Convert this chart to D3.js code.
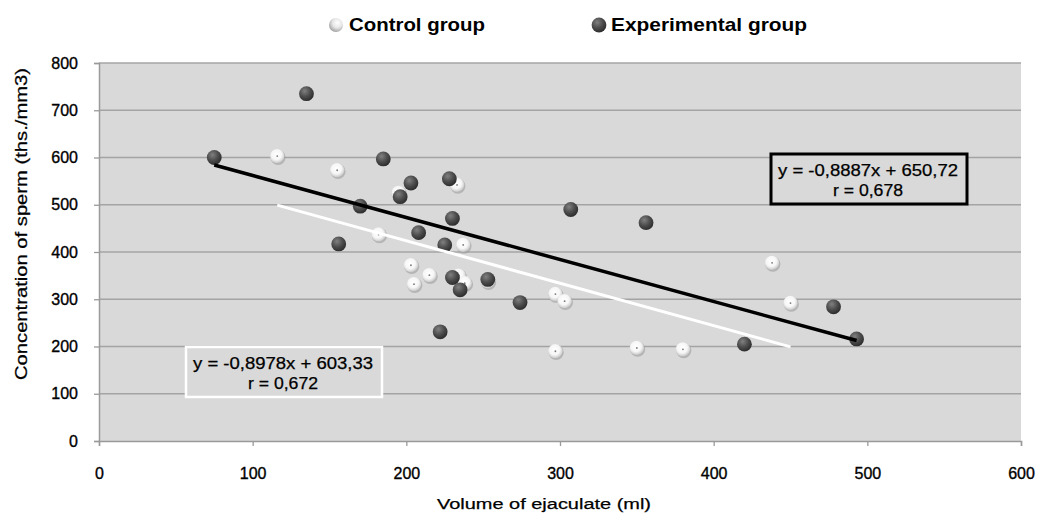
<!DOCTYPE html>
<html><head><meta charset="utf-8">
<script src="https://cdn.jsdelivr.net/npm/d3@7"></script>
<style>
body{margin:0;background:#fff}
text{font-family:"Liberation Sans",Arial,sans-serif;fill:#000}
</style>
</head><body><svg id="c" width="1040" height="515"></svg>
<script>
// ---- data ----
const seriesNames = ["Control group", "Experimental group"];
const controlX = [116, 155, 182, 195, 233, 237, 203, 215, 205, 234, 238, 253, 297, 303, 297, 350, 380, 438, 450];
const controlY = [603, 573, 437, 525, 542, 415, 372, 351, 332, 350, 334, 338, 311, 296, 190, 197, 194, 377, 292];
const expX = [75, 135, 185, 170, 156, 196, 203, 228, 307, 356, 230, 208, 225, 230, 235, 253, 274, 222, 420, 478, 493];
const expY = [600, 735, 597, 497, 417, 517, 546, 555, 490, 462, 471, 441, 415, 346, 320, 342, 293, 231, 205, 284, 216];
const xTicks = [0, 100, 200, 300, 400, 500, 600];
const yTicks = [0, 100, 200, 300, 400, 500, 600, 700, 800];
const trendSlopes = [-0.8978, -0.8887];
const trendIntercepts = [603.33, 650.72];
const trendEq = ["y = -0,8978x  + 603,33", "y = -0,8887x  + 650,72"];
const trendR = ["r = 0,672", "r = 0,678"];
const xTitle = "Volume of ejaculate (ml)";
const yTitle = "Concentration of sperm (ths./mm3)";

// ---- layout ----
const svg = d3.select("#c");
const x = d3.scaleLinear().domain([0, 600]).range([99, 1021]);
const y = d3.scaleLinear().domain([0, 800]).range([441, 63]);

const defs = svg.append("defs");
const gd = defs.append("radialGradient").attr("id", "gDark").attr("cx", "38%").attr("cy", "32%").attr("r", "70%");
gd.append("stop").attr("offset", "0%").attr("stop-color", "#808080");
gd.append("stop").attr("offset", "55%").attr("stop-color", "#4c4c4c");
gd.append("stop").attr("offset", "100%").attr("stop-color", "#2c2c2c");
const gw = defs.append("radialGradient").attr("id", "gWhite").attr("cx", "45%").attr("cy", "40%").attr("r", "65%");
gw.append("stop").attr("offset", "0%").attr("stop-color", "#ffffff");
gw.append("stop").attr("offset", "55%").attr("stop-color", "#f6f6f6");
gw.append("stop").attr("offset", "85%").attr("stop-color", "#cfcfcf");
gw.append("stop").attr("offset", "100%").attr("stop-color", "#a8a8a8");
const gl = defs.append("radialGradient").attr("id", "gLeg").attr("cx", "60%").attr("cy", "35%").attr("r", "70%");
gl.append("stop").attr("offset", "0%").attr("stop-color", "#ffffff");
gl.append("stop").attr("offset", "50%").attr("stop-color", "#e6e6e6");
gl.append("stop").attr("offset", "100%").attr("stop-color", "#9a9a9a");

const textStroke = (s, w) => s.attr("stroke", "#000").attr("stroke-width", w);

// plot background
svg.append("rect").attr("x", x(0)).attr("y", y(800)).attr("width", x(600) - x(0)).attr("height", y(0) - y(800)).attr("fill", "#d9d9d9");

// gridlines
svg.append("g").selectAll("line").data(yTicks.filter(d => d > 0)).join("line")
  .attr("x1", x(0)).attr("x2", x(600)).attr("y1", d => y(d)).attr("y2", d => y(d))
  .attr("stroke", "#a4a4a4").attr("stroke-width", 1.3);

// axes
const yAxis = svg.append("g").attr("transform", `translate(${x(0)},0)`)
  .call(d3.axisLeft(y).tickValues(yTicks).tickSize(5).tickPadding(16));
const xAxis = svg.append("g").attr("transform", `translate(0,${y(0)})`)
  .call(d3.axisBottom(x).tickValues(xTicks).tickSize(5).tickPadding(22));
[yAxis, xAxis].forEach(a => {
  a.select(".domain").attr("stroke", "#9a9a9a").attr("stroke-width", 1.5);
  a.selectAll(".tick line").attr("stroke", "#9a9a9a").attr("stroke-width", 1.3);
  a.selectAll(".tick text").attr("font-size", 16).attr("fill", "#000")
    .style("font-family", '"Liberation Sans",Arial,sans-serif').call(textStroke, 0.35);
});

// axis titles
svg.append("text").attr("x", 544).attr("y", 509).attr("text-anchor", "middle")
  .attr("font-size", 15.5).attr("textLength", 214).attr("lengthAdjust", "spacingAndGlyphs").call(textStroke, 0.25).text(xTitle);
svg.append("text").attr("transform", "translate(27,224) rotate(-90)").attr("text-anchor", "middle")
  .attr("font-size", 16).attr("textLength", 312).attr("lengthAdjust", "spacingAndGlyphs").call(textStroke, 0.25).text(yTitle);

// dots
function drawDot(g, cx, cy, dark, legendMark) {
  if (dark) {
    g.append("circle").attr("cx", cx).attr("cy", cy).attr("r", 7.4).attr("fill", "url(#gDark)");
  } else if (legendMark) {
    g.append("circle").attr("cx", cx).attr("cy", cy).attr("r", 7).attr("fill", "url(#gLeg)");
  } else {
    g.append("circle").attr("cx", cx + 0.8).attr("cy", cy + 1.2).attr("r", 7.6).attr("fill", "#9c9c9c").attr("opacity", 0.6);
    g.append("circle").attr("cx", cx).attr("cy", cy).attr("r", 7.2).attr("fill", "url(#gWhite)");
    g.append("circle").attr("cx", cx).attr("cy", cy).attr("r", 0.9).attr("fill", "#777");
  }
}
const gc = svg.append("g");
controlX.forEach((v, i) => drawDot(gc, x(v), y(controlY[i]), false, false));
const ge = svg.append("g");
expX.forEach((v, i) => drawDot(ge, x(v), y(expY[i]), true, false));

// trend lines
const groupsX = [controlX, expX];
const lineColors = ["#ffffff", "#000000"];
const lineWidths = [3, 3.5];
groupsX.forEach((gx, k) => {
  const [a, b] = d3.extent(gx);
  svg.append("line")
    .attr("x1", x(a)).attr("y1", y(trendSlopes[k] * a + trendIntercepts[k]))
    .attr("x2", x(b)).attr("y2", y(trendSlopes[k] * b + trendIntercepts[k]))
    .attr("stroke", lineColors[k]).attr("stroke-width", lineWidths[k]);
});

// equation boxes
const boxes = [
  {x: 186, y: 347, w: 196, h: 50, stroke: "#ffffff", sw: 2.5, cx: 283},
  {x: 771, y: 154, w: 196, h: 50, stroke: "#000000", sw: 3, cx: 868}
];
boxes.forEach((b, k) => {
  svg.append("rect").attr("x", b.x).attr("y", b.y).attr("width", b.w).attr("height", b.h)
    .attr("fill", "#d9d9d9").attr("stroke", b.stroke).attr("stroke-width", b.sw);
  svg.append("text").attr("x", b.cx).attr("y", b.y + 22).attr("text-anchor", "middle")
    .attr("font-size", 16).attr("textLength", 180).attr("lengthAdjust", "spacingAndGlyphs").call(textStroke, 0.25).text(trendEq[k]);
  svg.append("text").attr("x", b.cx).attr("y", b.y + 42).attr("text-anchor", "middle")
    .attr("font-size", 16).attr("textLength", 70).attr("lengthAdjust", "spacingAndGlyphs").call(textStroke, 0.25).text(trendR[k]);
});

// legend
const legend = [
  {mx: 336, tx: 349, w: 136},
  {mx: 599, tx: 611, w: 196}
];
legend.forEach((l, k) => {
  drawDot(svg, l.mx, 25, k === 1, true);
  svg.append("text").attr("x", l.tx).attr("y", 31).attr("font-size", 19).attr("font-weight", "bold")
    .attr("textLength", l.w).attr("lengthAdjust", "spacingAndGlyphs").text(seriesNames[k]);
});
</script>
</body></html>
